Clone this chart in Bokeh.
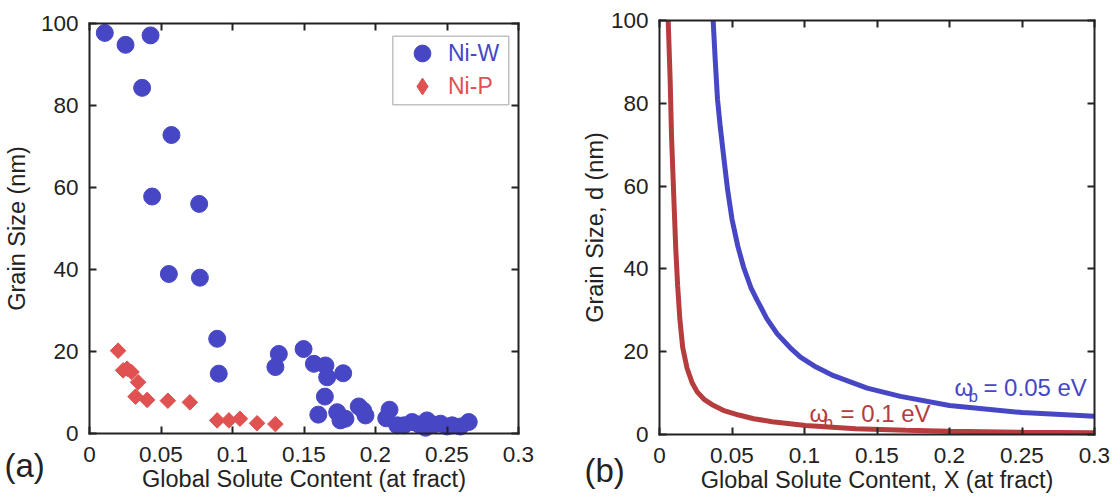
from math import pi
from bokeh.plotting import figure
from bokeh.models import (LinearAxis, FixedTicker, Legend, LegendItem, Label,
                          BoxAnnotation, Range1d)
from bokeh.layouts import row
from bokeh.embed import file_html
from bokeh.resources import INLINE

# ---------------- data ----------------
x_ticks = [0, 0.05, 0.1, 0.15, 0.2, 0.25, 0.3]
x_tick_labels = ["0", "0.05", "0.1", "0.15", "0.2", "0.25", "0.3"]
y_ticks = [0, 20, 40, 60, 80, 100]
y_tick_labels = ["0", "20", "40", "60", "80", "100"]

# panel (a): experimental grain sizes
niw_x = [0.0107, 0.0252, 0.0427, 0.0368, 0.0573, 0.0438, 0.0767, 0.0555, 0.0772,
         0.0893, 0.0904, 0.130, 0.1324, 0.1497, 0.1569, 0.165, 0.1662, 0.1774,
         0.1646, 0.160, 0.1732, 0.1755, 0.179, 0.1883, 0.193, 0.1914, 0.2098,
         0.2075, 0.2152, 0.2198, 0.2256, 0.2303, 0.236, 0.235, 0.2408, 0.2455,
         0.2501, 0.2536, 0.2594, 0.2652]
niw_d = [97.7, 94.8, 97.1, 84.3, 72.8, 57.8, 56.0, 38.9, 38.0,
         23.1, 14.6, 16.2, 19.4, 20.6, 17.0, 16.6, 13.7, 14.7,
         9.0, 4.6, 5.2, 3.2, 3.6, 6.6, 4.4, 5.6, 5.8,
         3.7, 2.0, 2.0, 2.8, 2.2, 3.2, 1.4, 2.2, 2.4,
         1.7, 2.0, 1.7, 2.8]

nip_x = [0.0200, 0.0235, 0.0263, 0.0294, 0.0340, 0.0322, 0.0403, 0.0548, 0.0702,
         0.0893, 0.0975, 0.1052, 0.1172, 0.1300]
nip_d = [20.2, 15.4, 15.8, 15.0, 12.5, 9.0, 8.2, 8.0, 7.6,
         3.2, 3.2, 3.6, 2.5, 2.3]

# panel (b): model curves
w005_x = [0.0370, 0.0385, 0.0400, 0.0420, 0.0443, 0.0470, 0.0500, 0.0540, 0.0580,
          0.0630, 0.0674, 0.0740, 0.0812, 0.0900, 0.0972, 0.1080, 0.1200, 0.1432,
          0.1662, 0.2000, 0.2500, 0.3000]
w005_d = [100, 90, 81, 74, 67, 59, 52, 45.5, 40.4,
          35.5, 32.4, 28, 24.3, 21, 18.7, 16.3, 14.2, 11.2,
          9.2, 7.0, 5.3, 4.4]

w01_x = [0.0060, 0.0074, 0.0083, 0.0099, 0.0112, 0.0125, 0.0140, 0.0160, 0.0190,
         0.0225, 0.0260, 0.0310, 0.0363, 0.0450, 0.0547, 0.0650, 0.0777, 0.1007,
         0.1352, 0.1700, 0.2000, 0.2500, 0.3000]
w01_d = [100, 85, 72, 57, 45, 36, 28, 21, 16,
         12.5, 10.3, 8.4, 7.2, 5.7, 4.7, 3.8, 3.1, 2.2,
         1.4, 1.0, 0.8, 0.55, 0.4]

# ---------------- style ----------------
FONT = "Liberation Sans"
INK = "#222222"
BLUE = "#4747c6"
RED_PT = "#e05252"
RED_LINE = "#b53d3d"
W, H = 560, 497


def make_panel(px0, px1, py_top, py_bot, xlabel, ylabel, ylab_standoff):
    """Frame covers the whole canvas; the visible box is drawn by
    fixed-location axes at the data limits (0..0.3, 0..100)."""
    sx = (px1 - px0) / 0.3
    sy = (py_bot - py_top) / 100.0
    xr = Range1d(-px0 / sx, (W - px0) / sx)
    yr = Range1d(-(H - py_bot) / sy, 100 + py_top / sy)
    p = figure(width=W, height=H, x_range=xr, y_range=yr,
               output_backend="svg", toolbar_location=None,
               min_border=0, min_border_left=0, min_border_right=0,
               min_border_top=0, min_border_bottom=0)
    p.xgrid.visible = False
    p.ygrid.visible = False
    p.outline_line_color = None
    p.background_fill_color = "white"
    p.border_fill_color = "white"

    xo = dict(zip(x_ticks, x_tick_labels))
    yo = dict(zip(y_ticks, y_tick_labels))
    for ax in p.xaxis:
        ax.ticker = FixedTicker(ticks=x_ticks)
        ax.major_label_overrides = xo
        ax.axis_label = xlabel
        ax.major_label_standoff = 13
        ax.axis_label_standoff = 1
        ax.fixed_location = 0
        ax.bounds = (0, 0.3)
    for ax in p.yaxis:
        ax.ticker = FixedTicker(ticks=y_ticks)
        ax.major_label_overrides = yo
        ax.axis_label = ylabel
        ax.major_label_standoff = 11
        ax.axis_label_standoff = ylab_standoff
        ax.fixed_location = 0
        ax.bounds = (0, 100)

    top = LinearAxis(ticker=FixedTicker(ticks=x_ticks), fixed_location=100,
                     bounds=(0, 0.3))
    right = LinearAxis(ticker=FixedTicker(ticks=y_ticks), fixed_location=0.3,
                       bounds=(0, 100))
    p.add_layout(top, "above")
    p.add_layout(right, "right")

    for ax in p.xaxis + p.yaxis:
        ax.axis_line_color = INK
        ax.axis_line_width = 2
        ax.axis_line_cap = "square"
        ax.major_tick_in = 7
        ax.major_tick_out = 0
        ax.minor_tick_in = 0
        ax.minor_tick_out = 0
        ax.major_tick_line_color = INK
        ax.major_tick_line_width = 2
        ax.major_label_text_font = FONT
        ax.axis_label_text_font = FONT
        ax.axis_label_text_font_size = "23.5px"
        ax.axis_label_text_font_style = "normal"
        ax.axis_label_text_color = INK
        if ax in (top, right):
            ax.major_label_text_font_size = "0px"
            ax.major_label_text_color = None
            ax.major_label_standoff = 0
        else:
            ax.major_label_text_font_size = "22.5px"
            ax.major_label_text_color = INK
    return p


# ---------------- panel (a) ----------------
pa = make_panel(89, 518, 23, 433,
                "Global Solute Content (at fract)", "Grain Size (nm)", 8)

r_w = pa.scatter(niw_x, niw_d, marker="circle", size=17,
                 fill_color=BLUE, line_color=BLUE)
r_p = pa.scatter(nip_x, nip_d, marker="square", size=11, angle=pi / 4,
                 fill_color=RED_PT, line_color=RED_PT)
# legend swatch for Ni-P (legend glyphs are never rotated, so use a diamond);
# the renderer itself is hidden, only its legend swatch is shown
r_p_key = pa.scatter(nip_x[:1], nip_d[:1], marker="diamond",
                     fill_color=RED_PT, line_color=RED_PT, visible=False)

pa.add_layout(BoxAnnotation(left=0.2121, right=0.2932, bottom=80.2, top=96.9,
                            fill_alpha=0, line_color="#333333", line_width=1.5))

for item_label, rend, col, ypos in (("Ni-W", r_w, BLUE, 423),
                                     ("Ni-P", r_p_key, RED_PT, 390)):
    lg = Legend(items=[LegendItem(label=item_label, renderers=[rend])],
                location=(401, ypos), padding=0, margin=0, spacing=0,
                glyph_width=42, glyph_height=42, label_standoff=5,
                label_text_font=FONT, label_text_font_size="23px",
                label_text_color=col, border_line_color=None,
                background_fill_alpha=0, inactive_fill_alpha=0)
    pa.add_layout(lg)

pa.add_layout(Label(x=4, y=32, x_units="screen", y_units="screen",
                    text="(a)", text_font=FONT, text_font_size="33px",
                    text_color=INK, text_baseline="middle"))

# ---------------- panel (b) ----------------
pb = make_panel(99, 534, 20, 434,
                "Global Solute Content, X (at fract)", "Grain Size, d (nm)", 0)

pb.line(w01_x, w01_d, line_color=RED_LINE, line_width=5)
pb.line(w005_x, w005_d, line_color=BLUE, line_width=5)


def omega_label(p, x0, x1, x2, ymid, ysub, rest, col):
    p.add_layout(Label(x=x0, y=ymid, text="\u03c9", text_font=FONT,
                       text_font_size="24px", text_color=col,
                       text_baseline="middle"))
    p.add_layout(Label(x=x1, y=ysub, text="b", text_font=FONT,
                       text_font_size="17px", text_color=col,
                       text_baseline="middle"))
    p.add_layout(Label(x=x2, y=ymid, text=rest, text_font=FONT,
                       text_font_size="24px", text_color=col,
                       text_baseline="middle"))


omega_label(pb, 0.2034, 0.2131, 0.2234, 11.4, 9.2, "= 0.05 eV", BLUE)
omega_label(pb, 0.1034, 0.1131, 0.1248, 5.15, 2.9, "= 0.1 eV", RED_LINE)

pb.add_layout(Label(x=24, y=27, x_units="screen", y_units="screen",
                    text="(b)", text_font=FONT, text_font_size="33px",
                    text_color=INK, text_baseline="middle"))

layout = row(pa, pb, spacing=0)
open("out.html", "w").write(file_html(layout, INLINE))
